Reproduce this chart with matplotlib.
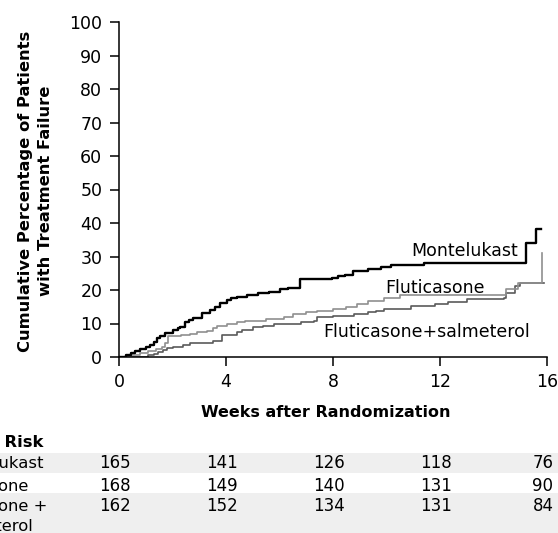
import matplotlib
matplotlib.use("Agg")
import matplotlib.pyplot as plt
from matplotlib.patches import Rectangle
from matplotlib.transforms import blended_transform_factory

# cumulative % with treatment failure, step changes (weeks, %)
monte_wk = [0.0, 0.25, 0.45, 0.6, 0.8, 1.0, 1.16, 1.3, 1.41, 1.55, 1.72, 2.03, 2.2, 2.28,
            2.47, 2.6, 2.78, 3.09, 3.4, 3.6, 3.78, 4.03, 4.2, 4.4, 4.8, 5.2, 5.6, 6.0,
            6.3, 6.78, 7.95, 8.2, 8.45, 8.75, 9.3, 9.8, 10.15, 11.4, 15.2, 15.6, 15.78]
monte_pct = [0.0, 0.6, 1.2, 1.8, 2.4, 3.0, 3.6, 4.6, 5.6, 6.2, 7.1, 8.0, 8.6, 9.0,
             10.5, 11.0, 11.5, 13.0, 14.0, 15.0, 16.0, 17.0, 17.5, 18.0, 18.5, 19.0, 19.5, 20.2,
             20.7, 23.2, 23.6, 24.1, 24.6, 25.6, 26.2, 27.0, 27.6, 28.0, 34.0, 38.2, 38.2]

flut_wk = [0.0, 0.4, 0.8, 1.1, 1.4, 1.6, 1.72, 1.82, 2.3, 2.65, 2.9, 3.28, 3.5, 3.65,
           4.03, 4.4, 4.7, 5.5, 6.15, 6.5, 7.0, 7.4, 8.0, 8.5, 8.9, 9.3, 9.9, 10.5,
           14.45, 14.9, 15.8, 15.8]
flut_pct = [0.0, 0.6, 1.2, 1.8, 2.4, 3.0, 4.2, 6.2, 6.5, 6.9, 7.4, 7.9, 8.6, 9.2,
            9.8, 10.3, 10.8, 11.3, 11.8, 12.8, 13.3, 13.8, 14.3, 14.8, 15.8, 16.7, 17.7, 18.4,
            20.2, 22.2, 22.2, 31.0]

fs_wk = [0.0, 1.1, 1.3, 1.45, 1.66, 1.8, 2.03, 2.4, 2.65, 3.0, 3.5, 3.84, 4.4, 4.6,
         5.0, 5.4, 5.8, 6.8, 7.3, 7.4, 8.0, 8.8, 9.3, 9.6, 9.9, 10.9, 11.8, 12.3,
         13.0, 14.4, 14.45, 14.8, 15.0, 15.9]
fs_pct = [0.0, 0.5, 1.0, 1.5, 2.1, 2.6, 3.1, 3.6, 4.1, 4.3, 4.9, 6.6, 7.6, 8.1,
          8.9, 9.4, 9.9, 10.3, 10.8, 11.8, 12.3, 12.8, 13.3, 13.8, 14.3, 15.3, 15.8, 16.3,
          17.2, 17.7, 19.2, 21.2, 22.2, 22.2]

# number at risk
risk_weeks = [0, 4, 8, 12, 16]
risk_monte = [165, 141, 126, 118, 76]
risk_flut = [168, 149, 140, 131, 90]
risk_fs = [162, 152, 134, 131, 84]
row_labels = ["Montelukast", "Fluticasone", "Fluticasone +", "salmeterol"]

W, H = 558, 533
plt.rcParams["font.family"] = "DejaVu Sans"
fig = plt.figure(figsize=(W / 100, H / 100), dpi=100)
ax = fig.add_axes([119 / W, 1 - 357 / H, (547 - 119) / W, (357 - 22) / H])

def fx(px):
    return px / W

def fy(py):
    return 1 - py / H

# shaded rows of the risk table
for top, bot in [(453, 473), (493, 533)]:
    fig.patches.append(Rectangle((0, fy(bot)), 1, (bot - top) / H, transform=fig.transFigure,
                                 facecolor="#efefef", edgecolor="none", zorder=0))

ax.step(fs_wk, fs_pct, where="post", color="#5a5a5a", lw=1.2)
ax.step(flut_wk, flut_pct, where="post", color="#8f8f8f", lw=1.2)
ax.step(monte_wk, monte_pct, where="post", color="black", lw=1.7)

ax.text(12.93, 30.1, "Montelukast", ha="center", va="baseline", fontsize=12.5)
ax.text(11.81, 19.2, "Fluticasone", ha="center", va="baseline", fontsize=12.5)
ax.text(11.5, 6.1, "Fluticasone+salmeterol", ha="center", va="baseline", fontsize=12.5)

ax.set_xlim(0, 16)
ax.set_ylim(0, 100)
ax.set_xticks(risk_weeks)
ax.set_yticks(range(0, 101, 10))
ax.spines["top"].set_visible(False)
ax.spines["right"].set_visible(False)
for s in ["left", "bottom"]:
    ax.spines[s].set_linewidth(1.1)
ax.tick_params(direction="out", length=6.5, width=1.1, labelsize=12.5)
ax.tick_params(axis="y", pad=5.5)
ax.tick_params(axis="x", pad=4.8)
ax.set_facecolor("none")

fig.text(fx(35.5), fy(191), "Cumulative Percentage of Patients\nwith Treatment Failure",
         rotation=90, ha="center", va="center", fontsize=11.8, fontweight="bold",
         multialignment="center", linespacing=1.45)
fig.text(fx(326), fy(417), "Weeks after Randomization", ha="center", va="baseline",
         fontsize=11.5, fontweight="bold")

# number-at-risk table, partly cut by the left edge
fig.text(fx(-57), fy(447), "No. at Risk", ha="left", va="baseline", fontsize=11.8,
         fontweight="bold")
row_base = [468, 491, 511]
label_x = [-57, -65, -65, -53.5]
label_base = row_base + [531]
for lab, x, b in zip(row_labels, label_x, label_base):
    fig.text(fx(x), fy(b), lab, ha="left", va="baseline", fontsize=11.8)

tr = blended_transform_factory(ax.transData, fig.transFigure)
for vals, base in zip([risk_monte, risk_flut, risk_fs], row_base):
    for wk, v in zip(risk_weeks, vals):
        fig.text(wk - 0.15, fy(base), str(v), transform=tr, ha="center", va="baseline",
                 fontsize=12)

fig.savefig("out.png", dpi=100)
